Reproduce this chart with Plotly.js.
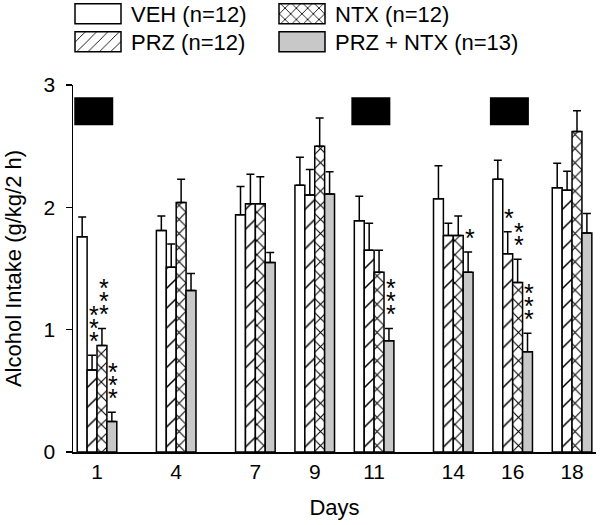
<!DOCTYPE html>
<html><head><meta charset="utf-8">
<script src="https://cdn.plot.ly/plotly-3.0.1.min.js"></script>
<style>html,body{margin:0;padding:0;background:#fff}#chart{width:601px;height:525px}</style>
</head><body><div id="chart"></div>
<script>
// ---- data ----
const days = [1, 4, 7, 9, 11, 14, 16, 18];
const dayLabels = ['1', '4', '7', '9', '11', '14', '16', '18'];
const seriesNames = ['VEH (n=12)', 'PRZ (n=12)', 'NTX (n=12)', 'PRZ + NTX (n=13)'];
const veh      = [1.76, 1.81, 1.94, 2.18, 1.89, 2.07, 2.23, 2.16];
const vehErr   = [0.16, 0.12, 0.23, 0.23, 0.20, 0.27, 0.155, 0.20];
const prz      = [0.67, 1.51, 2.03, 2.10, 1.65, 1.77, 1.62, 2.14];
const przErr   = [0.12, 0.19, 0.24, 0.21, 0.22, 0.10, 0.18, 0.155];
const ntx      = [0.87, 2.04, 2.03, 2.50, 1.47, 1.77, 1.385, 2.62];
const ntxErr   = [0.14, 0.19, 0.22, 0.23, 0.18, 0.16, 0.19, 0.17];
const combo    = [0.25, 1.32, 1.55, 2.11, 0.91, 1.47, 0.82, 1.79];
const comboErr = [0.075, 0.14, 0.08, 0.18, 0.10, 0.165, 0.15, 0.16];
// number of significance stars above each bar
const vehStars   = [0, 0, 0, 0, 0, 0, 0, 0];
const przStars   = [3, 0, 0, 0, 0, 0, 1, 0];
const ntxStars   = [3, 0, 0, 0, 0, 0, 2, 0];
const comboStars = [3, 0, 0, 0, 3, 1, 3, 0];
const treatmentDays = [1, 11, 16];

// ---- layout helpers ----
const pos = days.map((d, i) => d + i);       // group centres (gap grows with day spacing)
const BW = 0.5;                                // bar width in axis units
const offsets = [-1, -0.5, 0, 0.5];
const GRAY = '#c8c8c8';

const values = [veh, prz, ntx, combo];
const errs = [vehErr, przErr, ntxErr, comboErr];
const stars = [vehStars, przStars, ntxStars, comboStars];
const patterns = [
  null,
  {shape: '/', fgcolor: '#000', bgcolor: '#fff', size: 14, solidity: 0.11},
  {shape: 'x', fgcolor: '#000', bgcolor: '#fff', size: 10, solidity: 0.2},
  null
];
const fills = ['#fff', '#fff', '#fff', GRAY];
const legendIds = ['legend', 'legend2', 'legend3', 'legend4'];

const data = values.map((v, k) => {
  const m = {color: fills[k], line: {color: '#000', width: 1.5}};
  if (patterns[k]) m.pattern = patterns[k];
  return {
    type: 'bar', name: seriesNames[k], x: pos, y: v,
    width: BW, offset: offsets[k],
    marker: m,
    legend: legendIds[k],
    error_y: {type: 'data', array: errs[k], arrayminus: v.map(() => 0), symmetric: false,
              color: '#000', thickness: 1.5, width: 4},
    hoverinfo: 'skip'
  };
});

const annotations = [];
values.forEach((v, k) => {
  stars[k].forEach((n, i) => {
    if (!n) return;
    const txt = Array(n).fill('<span style="font-size:25px">*</span>').join('<br>');
    annotations.push({
      x: pos[i] + offsets[k] + BW / 2 + 0.08, y: v[i] + errs[k][i],
      xref: 'x', yref: 'y', text: txt, showarrow: false,
      font: {size: 10, color: '#000'},
      yanchor: 'bottom', xanchor: 'center', yshift: -2
    });
  });
});

const shapes = treatmentDays.map(d => {
  const p = pos[days.indexOf(d)];
  return {type: 'rect', xref: 'x', yref: 'y', x0: p - 1.15, x1: p + 0.82, y0: 2.67, y1: 2.90,
          fillcolor: '#000', line: {width: 0}};
});

const font = 'Liberation Sans, Arial, sans-serif';
const PLOT_L = 73, PLOT_W = 523, PLOT_T = 85, PLOT_H = 367;
const px2x = px => (px - PLOT_L) / PLOT_W;
const px2y = py => 1 + (PLOT_T - py) / PLOT_H;
function legendAt(pxLeft, pyMid) {
  return {x: px2x(pxLeft), y: px2y(pyMid), xanchor: 'left', yanchor: 'middle',
          bgcolor: 'rgba(0,0,0,0)', font: {size: 22}, itemwidth: 56};
}
const layout = {
  width: 601, height: 525,
  margin: {l: PLOT_L, r: 601 - PLOT_L - PLOT_W, t: PLOT_T, b: 525 - PLOT_T - PLOT_H, autoexpand: false},
  paper_bgcolor: '#fff', plot_bgcolor: '#fff',
  font: {family: font, size: 21, color: '#000'},
  barmode: 'overlay',
  xaxis: {range: [-0.213, 26.21], tickmode: 'array', tickvals: pos, ticktext: dayLabels,
          showline: true, linecolor: '#000', linewidth: 1.5, ticks: '', showgrid: false, zeroline: false,
          tickfont: {size: 21}, title: {text: 'Days', font: {size: 22}, standoff: 18}},
  yaxis: {range: [0, 3], tickmode: 'array', tickvals: [0, 1, 2, 3],
          showline: true, linecolor: '#000', linewidth: 1.5, ticks: 'outside', ticklen: 6, tickwidth: 1.5,
          tickcolor: '#000', showgrid: false, zeroline: false, tickfont: {size: 21}, ticklabelstandoff: 6,
          title: {text: 'Alcohol Intake (g/kg/2 h)', font: {size: 22}, standoff: 16}},
  showlegend: true,
  legend: legendAt(65, 14),
  legend3: legendAt(269, 14),
  legend2: legendAt(65, 42),
  legend4: legendAt(269, 42),
  shapes: shapes,
  annotations: annotations
};

function enlargeSwatches() {
  document.querySelectorAll('g.legendpoints path').forEach(p => p.setAttribute('d', 'M23,10H-23V-10H23Z'));
}
Plotly.newPlot('chart', data, layout, {staticPlot: true, displayModeBar: false}).then(enlargeSwatches);
enlargeSwatches();
</script>
</body></html>
